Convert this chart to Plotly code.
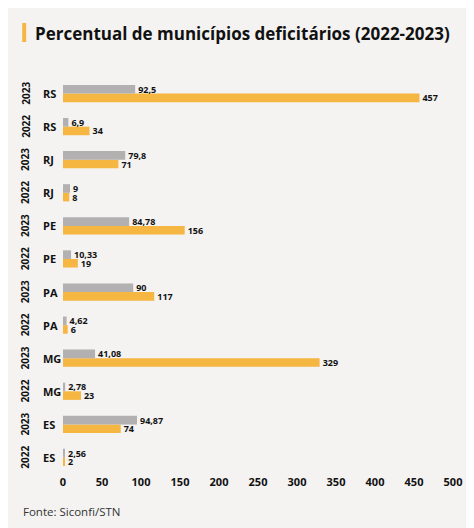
import plotly.graph_objects as go

# Data (top to bottom as in the reference)
states = ["RS", "RS", "RJ", "RJ", "PE", "PE", "PA", "PA", "MG", "MG", "ES", "ES"]
years = ["2023", "2022", "2023", "2022", "2023", "2022", "2023", "2022", "2023", "2022", "2023", "2022"]
percentual = [92.5, 6.9, 79.8, 9, 84.78, 10.33, 90, 4.62, 41.08, 2.78, 94.87, 2.56]
municipios = [457, 34, 71, 8, 156, 19, 117, 6, 329, 23, 74, 2]
x_ticks = [0, 50, 100, 150, 200, 250, 300, 350, 400, 450, 500]

GRAY = "#b2b0b0"
ORANGE = "#f5b642"
BG = "#f4f3f1"
FONT = "Open Sans"

# figure is rendered with an 8px page margin, so coordinates below are page - 8
W, H = 466, 520
ML, MT = 55, 69
PW, PH = 392, 397
MR = W - ML - PW
MB = H - MT - PH

n = len(states)
rows = list(range(n - 1, -1, -1))  # top row gets highest index


def fmt(v):
    return f"{v:g}".replace(".", ",")


def px(x):
    return (x - ML) / PW


def py(y):
    return 1 - (y - MT) / PH


label_font = dict(family=FONT, size=9, color="#111111", weight="bold")

fig = go.Figure()
fig.add_trace(go.Bar(
    y=rows, x=municipios, orientation="h", name="Municípios",
    marker=dict(color=ORANGE, line=dict(width=0)),
    text=[fmt(v) for v in municipios], textposition="outside",
    textfont=label_font, constraintext="none", cliponaxis=False,
))
fig.add_trace(go.Bar(
    y=rows, x=percentual, orientation="h", name="Percentual",
    marker=dict(color=GRAY, line=dict(width=0)),
    text=[fmt(v) for v in percentual], textposition="outside",
    textfont=label_font, constraintext="none", cliponaxis=False,
))

annotations = []
for r, s, yv in zip(rows, states, years):
    annotations.append(dict(
        x=px(33), y=r, xref="paper", yref="y", text=s, showarrow=False,
        xanchor="left", yanchor="middle",
        font=dict(family=FONT, size=11, color="#111111", weight="bold"),
    ))
    annotations.append(dict(
        x=px(17), y=r, xref="paper", yref="y", text=yv, showarrow=False,
        xanchor="center", yanchor="middle", textangle=-90,
        font=dict(family=FONT, size=10, color="#111111", weight="bold"),
    ))

annotations.append(dict(
    x=px(13), y=py(503), xref="paper", yref="paper", text="Fonte: Siconfi/STN",
    showarrow=False, xanchor="left", yanchor="middle",
    font=dict(family=FONT, size=11.5, color="#333333"),
))
annotations.append(dict(
    x=px(25), y=py(25), xref="paper", yref="paper",
    text="Percentual de municípios deficitários (2022-2023)", showarrow=False,
    xanchor="left", yanchor="middle",
    font=dict(family=FONT, size=17, color="#111111", weight="bold"),
))

shapes = [dict(
    type="rect", xref="paper", yref="paper",
    x0=px(14), x1=px(18), y0=py(34), y1=py(15),
    fillcolor=ORANGE, line=dict(width=0),
)]

fig.update_layout(
    width=W, height=H,
    margin=dict(l=ML, r=MR, t=MT, b=MB, pad=0),
    paper_bgcolor=BG, plot_bgcolor=BG,
    barmode="group", bargap=0.48, bargroupgap=0,
    showlegend=False,
    annotations=annotations, shapes=shapes,
    xaxis=dict(
        range=[0, 500], tickvals=x_ticks, ticktext=[str(t) for t in x_ticks],
        showgrid=False, zeroline=False, showline=False,
        tickfont=dict(family=FONT, size=11, color="#111111", weight="bold"),
        ticks="", fixedrange=True,
    ),
    yaxis=dict(
        range=[-0.5, n - 0.5], showticklabels=False, showgrid=False,
        zeroline=False, showline=False, ticks="", fixedrange=True,
    ),
)

fig.write_html("out.html")
